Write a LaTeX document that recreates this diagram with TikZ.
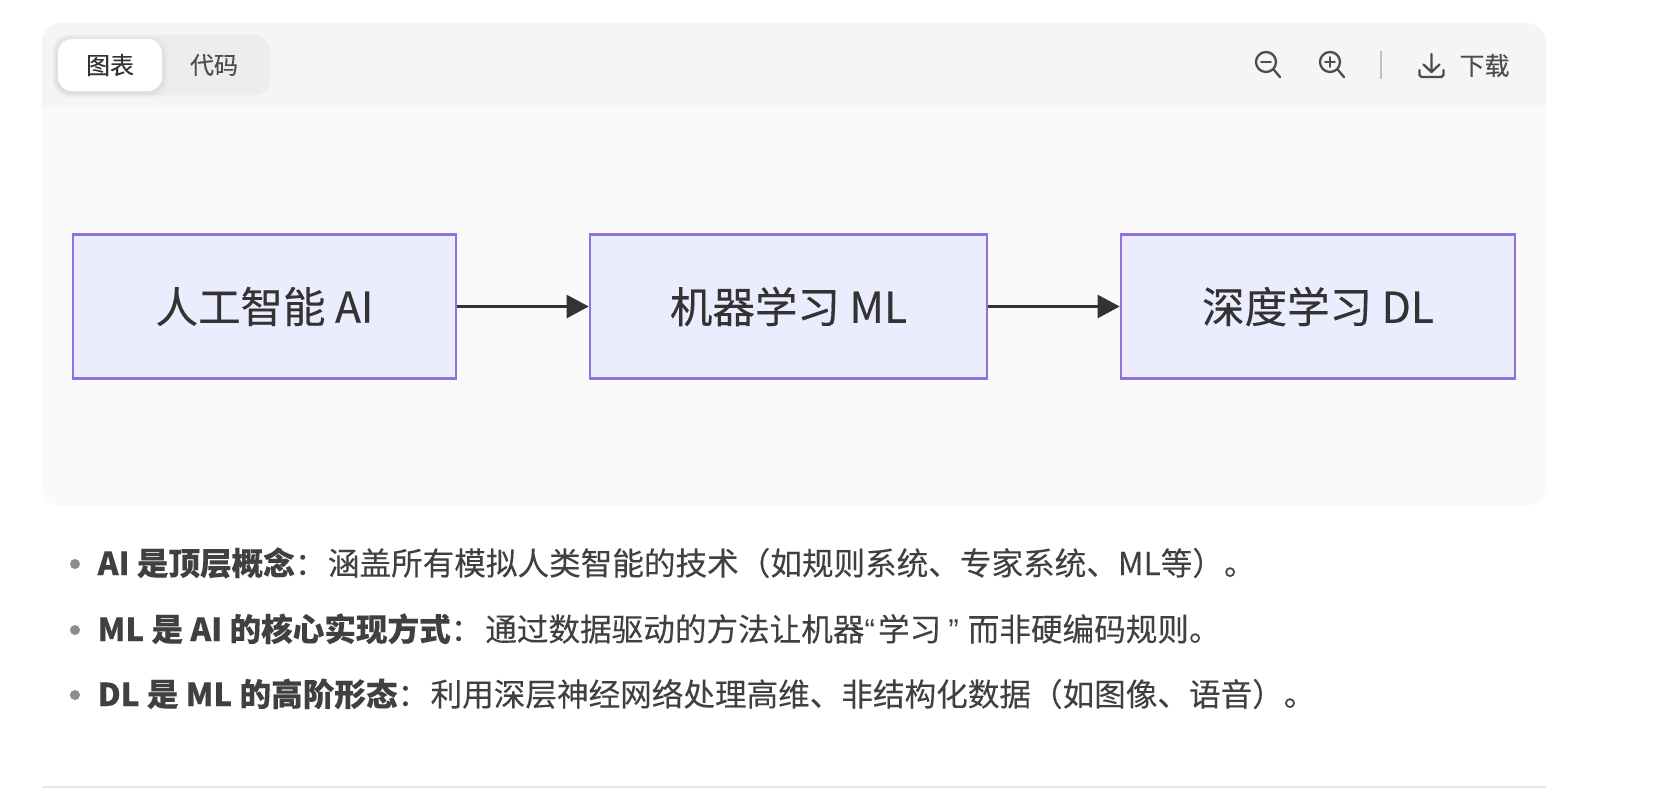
\documentclass[tikz,border=0pt]{standalone}
\usepackage{fontspec}
\setmainfont{Noto Sans CJK SC}
\newfontfamily\quotefont{Liberation Sans}
\newfontfamily\nodefont[FakeBold=0.35]{Noto Sans CJK SC}
\newfontfamily\plainfont[FakeBold=0.12]{Noto Sans CJK SC}
\usetikzlibrary{arrows.meta}
\definecolor{cardbg}{HTML}{FAFAFA}
\definecolor{headbg}{HTML}{F5F5F5}
\definecolor{togglebg}{HTML}{EDEDED}
\definecolor{nodefill}{HTML}{ECECFF}
\definecolor{nodeline}{HTML}{9370DB}
\definecolor{ink}{HTML}{333333}
\definecolor{bodyink}{HTML}{404040}
\definecolor{iconink}{HTML}{4D4D4D}
\definecolor{rulec}{HTML}{E5E5E5}
\definecolor{bulletc}{HTML}{8C8C8C}
\newcommand{\qo}{{\quotefont “}\hspace{3pt}}
\newcommand{\qc}{\hspace{7pt}{\quotefont ”}\hspace{9pt}}
\tikzset{
  x=1pt,y=-1pt,
  flowbox/.style={draw=nodeline,fill=nodefill,line width=2.6pt,minimum height=144pt,inner sep=0pt,text=ink,font=\nodefont\fontsize{42.5}{48}\selectfont},
  flowarrow/.style={draw=ink,line width=2.4pt,-{Triangle[length=22pt,width=23pt]}},
  tabtext/.style={font=\plainfont\fontsize{24}{28}\selectfont,anchor=center,inner sep=0pt},
  bodytext/.style={font=\plainfont\fontsize{31.6}{38}\selectfont,text=bodyink,anchor=base west,inner sep=0pt},
  bulletdot/.style={circle,fill=bulletc,inner sep=0pt,minimum size=10pt},
  iconline/.style={draw=iconink,line width=2.3pt,line cap=round,line join=round}
}
\begin{document}
\begin{tikzpicture}
\useasboundingbox (0,0) rectangle (1670,796);
\fill[white] (0,0) rectangle (1670,796);
% card
\fill[cardbg,rounded corners=20pt] (42,23) rectangle (1546,506);
\begin{scope}
\clip[rounded corners=20pt] (42,23) rectangle (1546,506);
\fill[headbg] (42,23) rectangle (1546,107);
\end{scope}
% toggle
\fill[togglebg,rounded corners=16pt] (54,35) rectangle (270,95);
\foreach \d/\o in {6/0.012,4/0.018,2/0.025}{
  \fill[black,opacity=\o,rounded corners=16pt] (58-\d,39-\d+2) rectangle (162+\d,91+\d+2);
}
\fill[white,rounded corners=14pt] (58,39) rectangle (162,91);
\node[tabtext,text=ink] (tabchart) at (110,65) {图表};
\node[tabtext,text=iconink] (tabcode) at (214,65) {代码};
% icons
\draw[iconline] (1266,62) circle (10pt);
\draw[iconline] (1274,70) -- (1280,77);
\draw[iconline,line width=1.8pt] (1261,62) -- (1271,62);
\draw[iconline] (1330,62) circle (10pt);
\draw[iconline] (1338,70) -- (1344,77);
\draw[iconline,line width=1.8pt] (1325,62) -- (1335,62) (1330,57) -- (1330,67);
\draw[draw=black!25,line width=1.5pt] (1381,51) -- (1381,79);
\draw[iconline] (1431.5,54) -- (1431.5,72) (1423.5,64.5) -- (1431.5,72) -- (1439.5,64.5);
\draw[iconline] (1419.5,70) -- (1419.5,75) -- (1421.5,77) -- (1441.5,77) -- (1443.5,75) -- (1443.5,70);
\node[tabtext,font=\plainfont\fontsize{25}{28}\selectfont,text=iconink] (download) at (1484.5,65.5) {下载};
% flow
\node[flowbox,minimum width=383pt] (ai) at (264.5,306.5) {人工智能 AI};
\node[flowbox,minimum width=397pt] (ml) at (788.5,306.5) {机器学习 ML};
\node[flowbox,minimum width=394pt] (dl) at (1318,306.5) {深度学习 DL};
\draw[flowarrow] (ai) -- (ml);
\draw[flowarrow] (ml) -- (dl);
% bullets
\node[bulletdot] (b1) at (75,564) {};
\node[bulletdot] (b2) at (75,630) {};
\node[bulletdot] (b3) at (75,695) {};
\node[bodytext] (t1) at (97.5,575) {\textbf{AI 是顶层概念}：\hspace{1.5pt}涵盖所有模拟人类智能的技术（如规则系统、专家系统、ML等）。};
\node[bodytext] (t2) at (97.5,641) {\textbf{ML 是 AI 的核心实现方式}：\hspace{3pt}通过数据驱动的方法让机器\qo 学习\qc 而非硬编码规则。};
\node[bodytext] (t3) at (97.5,706) {\textbf{DL 是 ML 的高阶形态}：\hspace{1.5pt}利用深层神经网络处理高维、非结构化数据（如图像、语音）。};
% rule
\draw[rulec,line width=2pt] (42,786.5) -- (1546,786.5);
\end{tikzpicture}
\end{document}
